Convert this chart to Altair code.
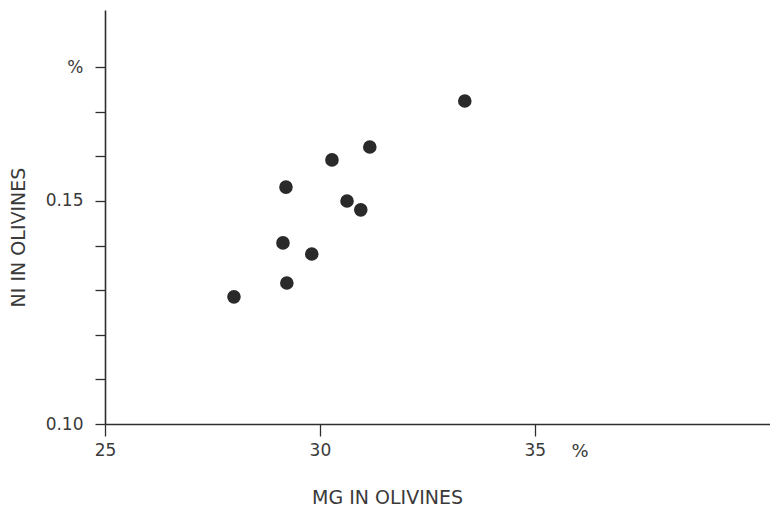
import altair as alt
import pandas as pd

mg = [33.37, 31.16, 30.28, 29.21, 30.63, 30.95, 29.14, 29.81, 29.23, 28.00]
ni = [0.1724, 0.1621, 0.1592, 0.1531, 0.1500, 0.1480, 0.1406, 0.1381, 0.1316, 0.1285]
x_ticks = [25, 30, 35]
y_ticks = [0.10, 0.11, 0.12, 0.13, 0.14, 0.15, 0.16, 0.17, 0.18]

df = pd.DataFrame({"mg": mg, "ni": ni})

FONT = "DejaVu Sans"
TXT = "#3a3a3a"
AX = "#2e2e2e"

xscale = alt.Scale(domain=[25, 40.47], nice=False, zero=False)
yscale = alt.Scale(domain=[0.10, 0.1928], nice=False, zero=False)

points = alt.Chart(df).mark_circle(size=185, color="#2a2a2a", opacity=1).encode(
    x=alt.X("mg:Q", scale=xscale,
            axis=alt.Axis(values=x_ticks, title="MG IN OLIVINES", grid=False,
                          labelFlush=False,
                          domainColor=AX, domainWidth=1.6, tickColor=AX, tickWidth=1.3,
                          tickSize=12, labelFont=FONT, labelFontSize=17, labelColor=TXT,
                          labelPadding=6, titleFont=FONT, titleFontSize=19,
                          titleFontWeight="normal", titleColor=TXT,
                          titleX=282, titleY=73, titleBaseline="middle",
                          titleAlign="center", titleAnchor="start")),
    y=alt.Y("ni:Q", scale=yscale,
            axis=alt.Axis(values=y_ticks, title="NI IN OLIVINES", grid=False,
                          labelFlush=False,
                          labelExpr="round(datum.value*100) == 10 ? '0.10' : round(datum.value*100) == 15 ? '0.15' : round(datum.value*100) == 18 ? '%' : ''",
                          domainColor=AX, domainWidth=1.6, tickColor=AX, tickWidth=1.3,
                          tickSize=10, labelFont=FONT, labelFontSize=17, labelColor=TXT,
                          labelPadding=12, titleFont=FONT, titleFontSize=19,
                          titleFontWeight="normal", titleColor=TXT,
                          titleAngle=270, titleX=-87, titleY=227,
                          titleBaseline="middle", titleAlign="center", titleAnchor="start")),
)

pct = alt.Chart(pd.DataFrame({"t": ["%"]})).mark_text(
    font=FONT, fontSize=18, color=TXT, dy=28
).encode(x=alt.datum(36.05), y=alt.datum(0.10), text="t:N")

chart = (points + pct).properties(
    width=665, height=414,
    padding={"left": 105, "top": 10, "right": 0, "bottom": 82},
    autosize=alt.AutoSizeParams(type="none"),
    background="white",
).configure_view(stroke=None)

chart.save("out.html", embed_options={"renderer": "svg", "actions": False})
